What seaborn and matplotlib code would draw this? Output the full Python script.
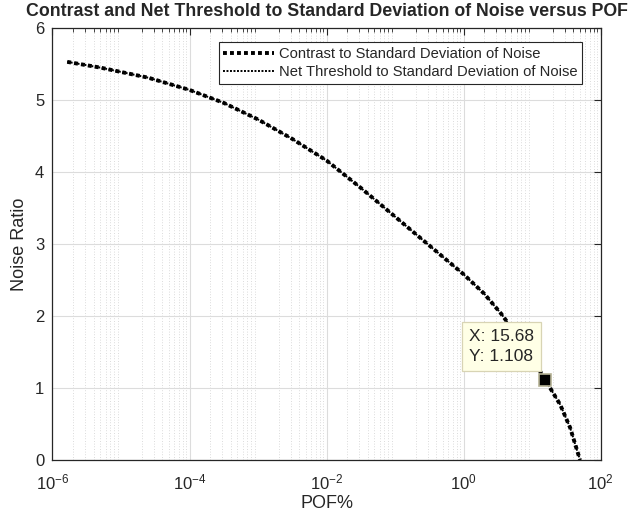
import numpy as np
import pandas as pd
import matplotlib
matplotlib.use("Agg")
import matplotlib.pyplot as plt
import seaborn as sns
from matplotlib.ticker import LogLocator, FixedLocator, NullFormatter

# Probability of failure (%) and the corresponding noise ratios
pof = [1.64e-6, 5.0e-6, 2.5e-5, 1.0e-4, 3.16e-4, 1.0e-3, 3.16e-3, 1.0e-2,
       3.16e-2, 1.0e-1, 3.16e-1, 1.0, 2.0, 3.55, 8.0, 15.68, 25.7, 35.9, 50.1]
contrast_ratio = [5.53, 5.45, 5.31, 5.14, 4.96, 4.73, 4.46, 4.16,
                  3.78, 3.38, 2.98, 2.58, 2.31, 2.03, 1.57, 1.108, 0.77, 0.45, 0.0]
net_threshold_ratio = contrast_ratio

tip_x = 15.68
tip_y = 1.108

series_names = ["Contrast to Standard Deviation of Noise",
                "Net Threshold to Standard Deviation of Noise"]
x_ticks = [1e-6, 1e-4, 1e-2, 1e0, 1e2]
y_ticks = [0, 1, 2, 3, 4, 5, 6]

sns.set_style("white")
plt.rcParams["font.family"] = ["Liberation Sans", "DejaVu Sans"]
plt.rcParams["mathtext.default"] = "regular"

df = pd.DataFrame({
    "POF": pof * 2,
    "ratio": contrast_ratio + net_threshold_ratio,
    "series": [series_names[0]] * len(pof) + [series_names[1]] * len(pof),
})

fig = plt.figure(figsize=(6.34, 5.16), dpi=100)
ax = fig.add_axes([0.0828, 0.1085, 0.8645, 0.8372])

sns.lineplot(data=df[df.series == series_names[0]], x="POF", y="ratio",
             ax=ax, color="black", linestyle=(0, (1, 0.8)), linewidth=2.8,
             label=series_names[0], sort=False)
sns.lineplot(data=df[df.series == series_names[1]], x="POF", y="ratio",
             ax=ax, color="black", linestyle=(0, (1, 0.8)), linewidth=1.4,
             label=series_names[1], sort=False)

ax.set_xscale("log")
ax.set_xlim(1e-6, 1e2)
ax.set_ylim(0, 6)
ax.xaxis.set_major_locator(FixedLocator(x_ticks))
ax.xaxis.set_minor_locator(LogLocator(base=10, subs=np.arange(2, 10), numticks=20))
ax.xaxis.set_minor_formatter(NullFormatter())
ax.yaxis.set_major_locator(FixedLocator(y_ticks))

# grid: solid major lines, dotted minor lines on the log axis
ax.grid(True, which="major", color="#dcdcdc", linewidth=0.8, linestyle="-")
ax.grid(True, which="minor", axis="x", color="#cfcfcf", linewidth=0.6,
        linestyle=(0, (1, 2.2)))
ax.set_axisbelow(True)

for s in ax.spines.values():
    s.set_color("#262626")
    s.set_linewidth(0.9)
    s.set_visible(True)
ax.tick_params(which="both", direction="in", top=True, right=True,
               colors="#262626", labelsize=12, pad=6)
ax.tick_params(which="major", length=5, width=0.8)
ax.tick_params(which="minor", length=3, width=0.6)
ax.tick_params(axis="x", pad=9)

ax.set_xlabel("POF%", fontsize=13, color="#262626", labelpad=2)
ax.set_ylabel("Noise Ratio", fontsize=13, color="#262626", labelpad=5)
ax.set_title("Contrast and Net Threshold to Standard Deviation of Noise versus POF",
             fontsize=12.8, fontweight="bold", pad=9)

leg = ax.legend(loc="upper right", bbox_to_anchor=(0.966, 0.967), fontsize=10.6,
                frameon=True, fancybox=False, handlelength=3.5,
                handletextpad=0.3, borderpad=0.3, labelspacing=0.3,
                borderaxespad=0)
leg.get_frame().set_edgecolor("#262626")
leg.get_frame().set_linewidth(0.8)
leg.get_frame().set_alpha(1)

# data tip on the selected point
ax.plot([tip_x], [tip_y], marker="s", markersize=9, color="black",
        markeredgecolor="#b5b295", markeredgewidth=1.2, zorder=5)
ax.annotate(f"X: {tip_x:g}\nY: {tip_y:g}", xy=(tip_x, tip_y),
            xytext=(-55, 12), textcoords="offset points", ha="left",
            va="bottom", fontsize=12.5, linespacing=1.35,
            bbox=dict(boxstyle="square,pad=0.4", fc="#ffffe6",
                      ec="#d8d4b4", lw=0.9), zorder=6)

fig.savefig("out.png", dpi=100)
